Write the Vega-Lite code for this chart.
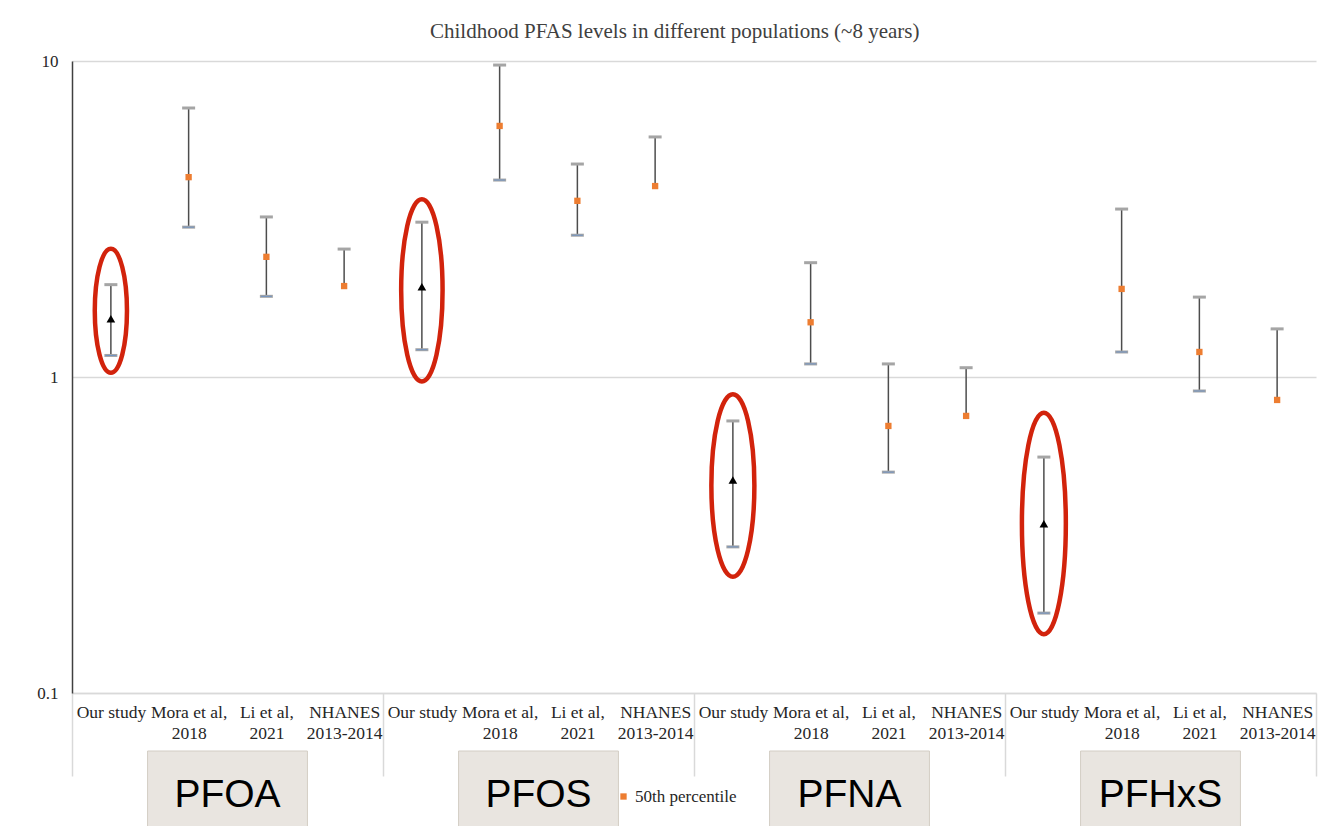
{
  "$schema": "https://vega.github.io/schema/vega-lite/v6.json",
  "autosize": {"type": "pad"},
  "padding": {"left": 36, "top": 21, "right": 8, "bottom": 0},
  "background": "white",
  "bounds": "flush",
  "spacing": 58,
  "title": {"text": "Childhood PFAS levels in different populations (~8 years)", "font": "Liberation Serif", "fontSize": 21, "fontWeight": "normal", "color": "#404040", "anchor": "middle", "dx": -2, "offset": 10},
  "config": {"view": {"stroke": null}},
  "datasets": {
    "pfas": [
      {"compound": "PFOA", "study": "Our study", "cat": "PFOA|Our study", "median": 1.53, "low": 1.17, "high": 1.96},
      {"compound": "PFOA", "study": "Mora et al, 2018", "cat": "PFOA|Mora et al,|2018", "median": 4.29, "low": 2.98, "high": 7.10},
      {"compound": "PFOA", "study": "Li et al, 2021", "cat": "PFOA|Li et al,|2021", "median": 2.40, "low": 1.80, "high": 3.21},
      {"compound": "PFOA", "study": "NHANES 2013-2014", "cat": "PFOA|NHANES|2013-2014", "median": 1.94, "low": null, "high": 2.54},
      {"compound": "PFOS", "study": "Our study", "cat": "PFOS|Our study", "median": 1.93, "low": 1.22, "high": 3.09},
      {"compound": "PFOS", "study": "Mora et al, 2018", "cat": "PFOS|Mora et al,|2018", "median": 6.23, "low": 4.20, "high": 9.71},
      {"compound": "PFOS", "study": "Li et al, 2021", "cat": "PFOS|Li et al,|2021", "median": 3.61, "low": 2.81, "high": 4.72},
      {"compound": "PFOS", "study": "NHANES 2013-2014", "cat": "PFOS|NHANES|2013-2014", "median": 4.02, "low": null, "high": 5.75},
      {"compound": "PFNA", "study": "Our study", "cat": "PFNA|Our study", "median": 0.472, "low": 0.290, "high": 0.726},
      {"compound": "PFNA", "study": "Mora et al, 2018", "cat": "PFNA|Mora et al,|2018", "median": 1.49, "low": 1.10, "high": 2.30},
      {"compound": "PFNA", "study": "Li et al, 2021", "cat": "PFNA|Li et al,|2021", "median": 0.70, "low": 0.50, "high": 1.10},
      {"compound": "PFNA", "study": "NHANES 2013-2014", "cat": "PFNA|NHANES|2013-2014", "median": 0.753, "low": null, "high": 1.07},
      {"compound": "PFHxS", "study": "Our study", "cat": "PFHxS|Our study", "median": 0.343, "low": 0.179, "high": 0.558},
      {"compound": "PFHxS", "study": "Mora et al, 2018", "cat": "PFHxS|Mora et al,|2018", "median": 1.90, "low": 1.20, "high": 3.40},
      {"compound": "PFHxS", "study": "Li et al, 2021", "cat": "PFHxS|Li et al,|2021", "median": 1.20, "low": 0.903, "high": 1.79},
      {"compound": "PFHxS", "study": "NHANES 2013-2014", "cat": "PFHxS|NHANES|2013-2014", "median": 0.846, "low": null, "high": 1.42}
    ],
    "ellipses": [
      {"compound": "PFOA", "cat": "PFOA|Our study", "center": 1.62},
      {"compound": "PFOS", "cat": "PFOS|Our study", "center": 1.88},
      {"compound": "PFNA", "cat": "PFNA|Our study", "center": 0.4535},
      {"compound": "PFHxS", "cat": "PFHxS|Our study", "center": 0.344}
    ],
    "groups": [
      {"compound": "PFOA"},
      {"compound": "PFOS"},
      {"compound": "PFNA"},
      {"compound": "PFHxS"}
    ]
  },
  "resolve": {"scale": {"x": "independent"}},
  "vconcat": [
    {
      "width": 1244,
      "height": 632,
      "encoding": {
        "x": {
          "field": "cat", "type": "nominal", "title": null,
          "scale": {"type": "band", "paddingInner": 0, "paddingOuter": 0,
            "domain": ["PFOA|Our study", "PFOA|Mora et al,|2018", "PFOA|Li et al,|2021", "PFOA|NHANES|2013-2014",
                       "PFOS|Our study", "PFOS|Mora et al,|2018", "PFOS|Li et al,|2021", "PFOS|NHANES|2013-2014",
                       "PFNA|Our study", "PFNA|Mora et al,|2018", "PFNA|Li et al,|2021", "PFNA|NHANES|2013-2014",
                       "PFHxS|Our study", "PFHxS|Mora et al,|2018", "PFHxS|Li et al,|2021", "PFHxS|NHANES|2013-2014"]},
          "axis": {
            "labelExpr": "slice(split(datum.value, '|'), 1)",
            "labelAngle": 0,
            "labelFont": "Liberation Serif",
            "labelFontSize": 17.5,
            "labelLineHeight": 21,
            "labelColor": "#262626",
            "labelBaseline": "top",
            "labelPadding": -73,
            "labelOverlap": false,
            "labelBound": false,
            "tickBand": "extent",
            "tickSize": 83,
            "tickWidth": 1.5,
            "tickColor": "#d9d9d9",
            "tickOpacity": {"condition": {"test": "!isString(datum.value) || indexof(datum.value, 'NHANES') >= 0", "value": 1}, "value": 0},
            "domainColor": "#d9d9d9",
            "domainWidth": 1.5,
            "grid": false
          }
        }
      },
      "layer": [
        {
          "data": {"name": "pfas"},
          "mark": {"type": "rule", "color": "#4d4d4d", "strokeWidth": 1.5},
          "encoding": {
            "y": {"field": "median", "type": "quantitative",
              "scale": {"type": "log", "domain": [0.1, 10]},
              "axis": {"title": null, "values": [0.1, 1, 10], "format": "~g", "labelFont": "Liberation Serif", "labelFontSize": 17, "labelColor": "#262626", "labelPadding": 14, "ticks": false, "domainColor": "#404040", "domainWidth": 1.5, "grid": true, "gridColor": "#d9d9d9", "gridWidth": 1.5}},
            "y2": {"field": "high"}
          }
        },
        {
          "data": {"name": "pfas"},
          "transform": [{"filter": "datum.low != null"}],
          "mark": {"type": "rule", "color": "#4d4d4d", "strokeWidth": 1.5},
          "encoding": {
            "y": {"field": "low", "type": "quantitative"},
            "y2": {"field": "median"}
          }
        },
        {
          "data": {"name": "pfas"},
          "mark": {"type": "tick", "color": "#a5a5a5", "thickness": 3, "size": 13, "opacity": 1},
          "encoding": {"y": {"field": "high", "type": "quantitative"}}
        },
        {
          "data": {"name": "pfas"},
          "transform": [{"filter": "datum.low != null"}],
          "mark": {"type": "tick", "color": "#a5a5a5", "thickness": 3, "size": 13, "opacity": 1},
          "encoding": {"y": {"field": "low", "type": "quantitative"}}
        },
        {
          "data": {"name": "pfas"},
          "transform": [{"filter": "datum.low != null"}],
          "mark": {"type": "tick", "color": "#6f93c4", "thickness": 1, "size": 11, "opacity": 1},
          "encoding": {"y": {"field": "low", "type": "quantitative"}}
        },
        {
          "data": {"name": "pfas"},
          "transform": [{"filter": "datum.study != 'Our study'"}],
          "mark": {"type": "point", "shape": "square", "filled": true, "size": 40, "opacity": 1},
          "encoding": {
            "y": {"field": "median", "type": "quantitative"},
            "color": {"datum": "50th percentile", "type": "nominal",
              "scale": {"domain": ["50th percentile"], "range": ["#ed7d31"]},
              "legend": {"title": null, "orient": "none", "legendX": 543, "legendY": 727, "symbolType": "square", "symbolSize": 40, "labelFont": "Liberation Serif", "labelFontSize": 17, "labelColor": "#262626", "padding": 0, "labelOffset": 3}}
          }
        },
        {
          "data": {"name": "pfas"},
          "transform": [{"filter": "datum.study == 'Our study'"}],
          "mark": {"type": "point", "shape": "triangle-up", "filled": true, "color": "black", "size": 75, "opacity": 1},
          "encoding": {"y": {"field": "median", "type": "quantitative"}}
        },
        {
          "data": {"name": "ellipses"},
          "mark": {"type": "point", "filled": false, "color": "#d2230c", "strokeWidth": 4.5, "size": 52900, "opacity": 1},
          "encoding": {
            "y": {"field": "center", "type": "quantitative"},
            "shape": {"field": "compound", "type": "nominal", "legend": null,
              "scale": {"domain": ["PFOA", "PFOS", "PFNA", "PFHxS"],
                "range": [
                  "M -0.14,0 A 0.14,0.539 0 1,0 0.14,0 A 0.14,0.539 0 1,0 -0.14,0 Z",
                  "M -0.18,0 A 0.18,0.793 0 1,0 0.18,0 A 0.18,0.793 0 1,0 -0.18,0 Z",
                  "M -0.187,0 A 0.187,0.793 0 1,0 0.187,0 A 0.187,0.793 0 1,0 -0.187,0 Z",
                  "M -0.191,0 A 0.191,0.963 0 1,0 0.191,0 A 0.191,0.963 0 1,0 -0.191,0 Z"
                ]}}
          }
        }
      ]
    },
    {
      "width": 1244,
      "height": 76,
      "data": {"name": "groups"},
      "encoding": {
        "x": {"field": "compound", "type": "nominal", "sort": null,
          "scale": {"type": "band", "paddingInner": 0.486, "paddingOuter": 0.243},
          "axis": null}
      },
      "layer": [
        {"mark": {"type": "bar", "fill": "#e9e5e0", "stroke": "#d3cdc4", "strokeWidth": 1}, "encoding": {}},
        {"mark": {"type": "text", "font": "Liberation Sans", "fontSize": 39, "color": "black", "dy": 6}, "encoding": {"text": {"field": "compound"}}}
      ]
    }
  ]
}
